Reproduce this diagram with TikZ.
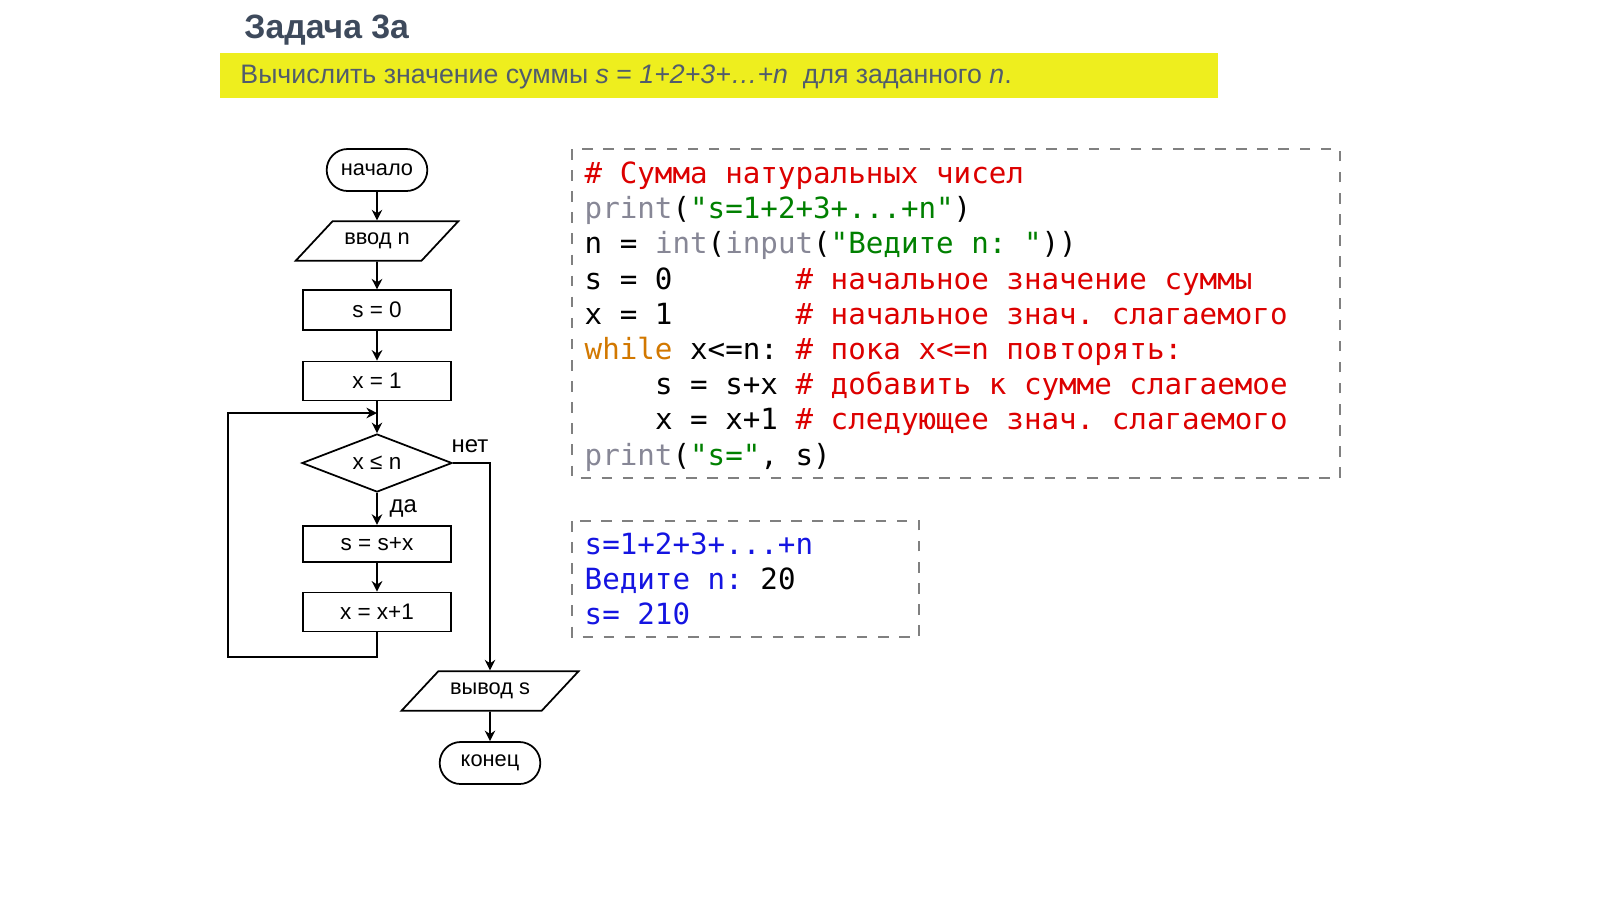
\documentclass[tikz,border=0pt]{standalone}
\usepackage{fontspec}
\setmainfont{Liberation Sans}
\setmonofont{DejaVu Sans Mono}
\usetikzlibrary{shapes.geometric,shapes.misc,arrows.meta}
\definecolor{ttl}{RGB}{62,74,92}
\definecolor{bar}{RGB}{238,238,30}
\definecolor{cmt}{RGB}{220,0,0}
\definecolor{str}{RGB}{0,128,0}
\definecolor{fn}{RGB}{135,135,150}
\definecolor{kw}{RGB}{210,120,0}
\definecolor{outc}{RGB}{20,20,225}
\newcommand\spc{\hphantom{0}}
\begin{document}
\begin{tikzpicture}[x=0.01cm, y=-0.01cm,
    block/.style={rectangle, draw, line width=0.5pt, minimum width=1.48cm,
        minimum height=0.36cm, font=\fontsize{6.4}{7}\selectfont},
    term/.style={rounded rectangle, draw, line width=0.5pt, minimum width=1.24cm,
        minimum height=0.42cm, font=\fontsize{6.2}{7}\selectfont},
    io/.style={trapezium, trapezium left angle=47, trapezium right angle=133,
        trapezium stretches body, draw, line width=0.5pt, minimum width=1.5cm,
        minimum height=0.38cm, font=\fontsize{6.2}{7}\selectfont},
    cond/.style={diamond, aspect=2.6, draw, line width=0.5pt, inner sep=0pt,
        minimum width=1.5cm, minimum height=0.58cm, font=\fontsize{6.4}{7}\selectfont},
    arrowstyle/.style={draw, line width=0.5pt, -{Stealth[length=3pt,width=3pt]}},
    codebox/.style={draw=gray, dashed, line width=0.6pt},
    code/.style={anchor=base west, inner sep=0pt, font=\ttfamily\fontsize{8.3}{9}\selectfont}
]
\useasboundingbox (0,0) rectangle (1600,899);
% title
\node (Title) [anchor=west, text=ttl, font=\bfseries\fontsize{9.6}{11}\selectfont] at (232,30) {Задача 3а};
\fill[bar] (220,53) rectangle (1218,98);
\node (Task) [anchor=west, text=ttl!90, font=\fontsize{7.6}{9}\selectfont] at (228,77)
    {Вычислить значение суммы \textit{s} = \textit{1+2+3+\dots+n} \ для заданного \textit{n}.};
% flowchart
\node (Start) [term] at (377,170) {начало};
\node (Input) [io] at (377,241) {ввод n};
\node (SZero) [block] at (377,310) {s = 0};
\node (XOne) [block] at (377,381) {x = 1};
\node (Check) [cond] at (377,463) {x ≤ n};
\node (Add) [block] at (377,544) {s = s+x};
\node (Inc) [block] at (377,612) {x = x+1};
\node (Output) [io, minimum width=1.6cm] at (490,691) {вывод s};
\node (End) [term] at (490,763) {конец};
\coordinate (LoopIn) at (377,413);
\draw[arrowstyle] (Start) -- (Input);
\draw[arrowstyle] (Input) -- (SZero);
\draw[arrowstyle] (SZero) -- (XOne);
\draw[arrowstyle] (XOne) -- (Check);
\draw[arrowstyle] (Check) -- (Add) node[pos=0.5, right, font=\fontsize{6.8}{7}\selectfont] {да};
\draw[arrowstyle] (Add) -- (Inc);
\draw[arrowstyle] (Inc.south) -- ++(0,25) -| (228,413) -- (LoopIn);
\draw[arrowstyle] (Check.east) -| (Output.north);
\node[font=\fontsize{6.8}{7}\selectfont] at (470,446) {нет};
\draw[arrowstyle] (Output) -- (End);
% program
\draw[codebox] (572,149) rectangle (1340,478);
\node[code] (L1) at (584,183) {\color{cmt}\#\spc Сумма\spc натуральных\spc чисел};
\node[code] (L2) at (584,218) {\color{fn}print\color{black}(\color{str}"s=1+2+3+...+n"\color{black})};
\node[code] (L3) at (584,253) {n\spc=\spc\color{fn}int\color{black}(\color{fn}input\color{black}(\color{str}"Ведите\spc n:\spc"\color{black}))};
\node[code] (L4) at (584,289) {s\spc=\spc0\spc\spc\spc\spc\spc\spc\spc\color{cmt}\#\spc начальное\spc значение\spc суммы};
\node[code] (L5) at (584,324) {x\spc=\spc1\spc\spc\spc\spc\spc\spc\spc\color{cmt}\#\spc начальное\spc знач.\spc слагаемого};
\node[code] (L6) at (584,359) {\color{kw}while\color{black}\spc x<=n:\spc\color{cmt}\#\spc пока\spc x<=n\spc повторять:};
\node[code] (L7) at (584,394) {\spc\spc\spc\spc s\spc=\spc s+x\spc\color{cmt}\#\spc добавить\spc к\spc сумме\spc слагаемое};
\node[code] (L8) at (584,429) {\spc\spc\spc\spc x\spc=\spc x+1\spc\color{cmt}\#\spc следующее\spc знач.\spc слагаемого};
\node[code] (L9) at (584,465) {\color{fn}print\color{black}(\color{str}"s="\color{black},\spc s)};
% run
\draw[codebox] (572,521) rectangle (919,637);
\node[code, text=outc] (R1) at (584,554) {s=1+2+3+...+n};
\node[code, text=outc] (R2) at (584,589) {Ведите\spc n:\spc\color{black}20};
\node[code, text=outc] (R3) at (584,624) {s=\spc 210};
\end{tikzpicture}
\end{document}
